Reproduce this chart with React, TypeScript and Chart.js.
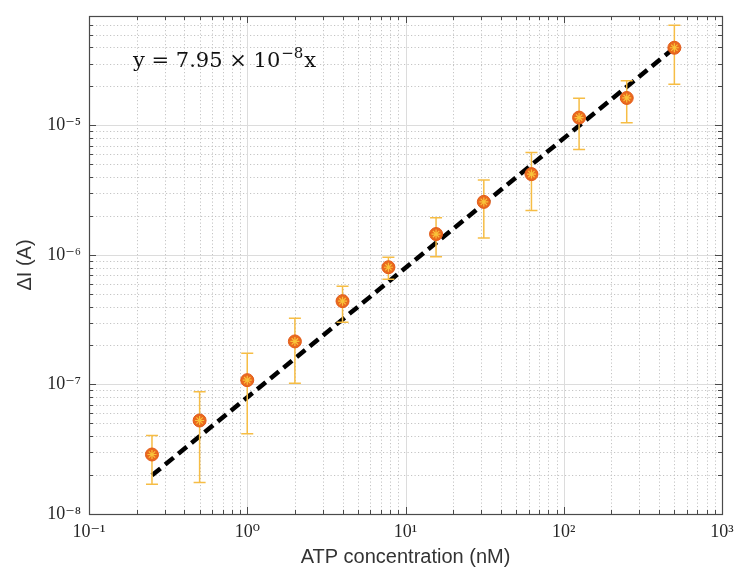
import React, { useEffect, useRef } from "react";
import { Chart, registerables } from "chart.js";

Chart.register(...registerables);

// ---- data ----
const concentrations = [0.25, 0.5, 1, 2, 4, 7.8, 15.6, 31.25, 62.5, 125, 250, 500];
const deltaI = [2.88e-8, 5.27e-8, 1.08e-7, 2.15e-7, 4.4e-7, 8.04e-7, 1.45e-6, 2.57e-6, 4.21e-6, 1.15e-5, 1.63e-5, 3.98e-5];
const errHigh = [4.04e-8, 8.8e-8, 1.74e-7, 3.25e-7, 5.74e-7, 9.6e-7, 1.94e-6, 3.79e-6, 6.18e-6, 1.62e-5, 2.21e-5, 5.93e-5];
const errLow = [1.7e-8, 1.75e-8, 4.16e-8, 1.02e-7, 3.03e-7, 6.5e-7, 9.7e-7, 1.35e-6, 2.2e-6, 6.52e-6, 1.05e-5, 2.08e-5];
const fitX = [0.25, 500];
const fitY = [1.9875e-8, 3.975e-5];
const xTicks = [0.1, 1, 10, 100, 1000];
const yTicks = [1e-8, 1e-7, 1e-6, 1e-5];
const xRange = [0.1, 1000];
const yRange = [1e-8, 7e-5];
const xTitle = "ATP concentration (nM)";
const yTitle = "ΔI (A)";
const equationMain = "y = 7.95 × 10";
const equationSup = "−8";
const equationTail = "x";

const SUP: Record<string, string> = {
  "0": "⁰", "1": "¹", "2": "²", "3": "³", "4": "⁴", "5": "⁵",
  "6": "⁶", "7": "⁷", "8": "⁸", "9": "⁹", "-": "⁻",
};
const pow10Label = (v: number) =>
  "10" + String(Math.round(Math.log10(v))).split("").map((c) => SUP[c] || c).join("");

const minorAndMajor = (lo: number, hi: number) => {
  const major: number[] = [];
  const minor: number[] = [];
  const e0 = Math.floor(Math.log10(lo) + 1e-9);
  const e1 = Math.ceil(Math.log10(hi) - 1e-9);
  for (let e = e0; e <= e1; e++) {
    for (let k = 1; k < 10; k++) {
      const v = k * Math.pow(10, e);
      if (v < lo * (1 - 1e-9) || v > hi * (1 + 1e-9)) continue;
      (k === 1 ? major : minor).push(v);
    }
  }
  return { major, minor };
};

const gridPlugin = {
  id: "matlabGrid",
  beforeDatasetsDraw(chart: any) {
    const { ctx, chartArea: a, scales } = chart;
    const xs = scales.x;
    const ys = scales.y;
    const gx = minorAndMajor(xRange[0], xRange[1]);
    const gy = minorAndMajor(yRange[0], yRange[1]);
    const px = (v: number) => Math.round(xs.getPixelForValue(v)) + 0.5;
    const py = (v: number) => Math.round(ys.getPixelForValue(v)) + 0.5;
    ctx.save();
    ctx.lineWidth = 1;
    ctx.setLineDash([1.2, 2.3]);
    ctx.strokeStyle = "#c4c4c4";
    ctx.beginPath();
    gx.minor.forEach((v) => { const p = px(v); ctx.moveTo(p, a.top); ctx.lineTo(p, a.bottom); });
    gy.minor.forEach((v) => { const p = py(v); ctx.moveTo(a.left, p); ctx.lineTo(a.right, p); });
    ctx.stroke();
    ctx.setLineDash([]);
    ctx.strokeStyle = "#dcdcdc";
    ctx.beginPath();
    gx.major.forEach((v) => { const p = px(v); ctx.moveTo(p, a.top); ctx.lineTo(p, a.bottom); });
    gy.major.forEach((v) => { const p = py(v); ctx.moveTo(a.left, p); ctx.lineTo(a.right, p); });
    ctx.stroke();
    ctx.strokeStyle = "#4a4a4a";
    ctx.lineWidth = 1.2;
    ctx.strokeRect(a.left + 0.5, a.top + 0.5, a.right - a.left, a.bottom - a.top);
    ctx.lineWidth = 1;
    ctx.beginPath();
    const tick = (vals: number[], len: number) => {
      vals.forEach((v) => {
        const p = px(v);
        ctx.moveTo(p, a.bottom); ctx.lineTo(p, a.bottom - len);
        ctx.moveTo(p, a.top); ctx.lineTo(p, a.top + len);
      });
    };
    const tickY = (vals: number[], len: number) => {
      vals.forEach((v) => {
        const p = py(v);
        ctx.moveTo(a.left, p); ctx.lineTo(a.left + len, p);
        ctx.moveTo(a.right, p); ctx.lineTo(a.right - len, p);
      });
    };
    tick(gx.major, 7); tick(gx.minor, 4);
    tickY(gy.major, 7); tickY(gy.minor, 4);
    ctx.stroke();
    ctx.restore();
  },
};

const errorBarPlugin = {
  id: "errorBars",
  afterDatasetDraw(chart: any, args: any) {
    if (chart.data.datasets[args.index].label !== "fit") return;
    const { ctx, scales } = chart;
    ctx.save();
    ctx.strokeStyle = "#F6BD45";
    ctx.lineWidth = 1.5;
    ctx.beginPath();
    concentrations.forEach((c, i) => {
      const x = scales.x.getPixelForValue(c);
      const yt = scales.y.getPixelForValue(errHigh[i]);
      const yb = scales.y.getPixelForValue(errLow[i]);
      ctx.moveTo(x, yt); ctx.lineTo(x, yb);
      ctx.moveTo(x - 6, yt); ctx.lineTo(x + 6, yt);
      ctx.moveTo(x - 6, yb); ctx.lineTo(x + 6, yb);
    });
    ctx.stroke();
    ctx.restore();
  },
};

const equationPlugin = {
  id: "equation",
  afterDatasetsDraw(chart: any) {
    const { ctx, chartArea: a } = chart;
    ctx.save();
    ctx.fillStyle = "#111";
    ctx.textBaseline = "alphabetic";
    ctx.textAlign = "left";
    let x = a.left + 44;
    const y = a.top + 51;
    ctx.font = "21px 'DejaVu Serif'";
    ctx.fillText(equationMain, x, y);
    x += ctx.measureText(equationMain).width + 1;
    ctx.font = "15px 'DejaVu Serif'";
    ctx.fillText(equationSup, x, y - 9);
    x += ctx.measureText(equationSup).width + 1;
    ctx.font = "21px 'DejaVu Serif'";
    ctx.fillText(equationTail, x, y);
    ctx.restore();
  },
};

export default function App() {
  const ref = useRef<HTMLCanvasElement | null>(null);
  useEffect(() => {
    if (!ref.current) return;
    const points = concentrations.map((c, i) => ({ x: c, y: deltaI[i] }));
    const fit = fitX.map((v, i) => ({ x: v, y: fitY[i] }));
    const chart = new Chart(ref.current, {
      type: "scatter",
      data: {
        datasets: [
          {
            label: "star",
            data: points,
            pointStyle: "star",
            pointRadius: 4.5,
            borderColor: "#F9C33A",
            backgroundColor: "#F9C33A",
            borderWidth: 1.2,
            order: 0,
          },
          {
            label: "points",
            data: points,
            pointStyle: "circle",
            pointRadius: 6.5,
            backgroundColor: "#EA6A1E",
            borderColor: "#E25A18",
            borderWidth: 1,
            order: 1,
          },
          {
            label: "fit",
            type: "line",
            data: fit,
            borderColor: "#000",
            borderWidth: 4.5,
            borderDash: [11, 6],
            pointRadius: 0,
            fill: false,
            order: 2,
          } as any,
        ],
      },
      options: {
        responsive: false,
        animation: false,
        events: [],
        layout: { padding: { left: 0, top: 16, right: 13, bottom: 0 } },
        plugins: { legend: { display: false }, tooltip: { enabled: false } },
        scales: {
          x: {
            type: "logarithmic",
            min: xRange[0],
            max: xRange[1],
            afterBuildTicks: (s: any) => { s.ticks = xTicks.map((v) => ({ value: v, major: true })); },
            afterFit: (s: any) => { s.height = 60; s.paddingLeft = 0; s.paddingRight = 0; },
            grid: { display: false, drawTicks: false },
            border: { display: false },
            ticks: {
              padding: 7,
              color: "#262626",
              font: { family: "'Liberation Serif', 'DejaVu Serif', serif", size: 18 },
              callback: (v: any) => pow10Label(Number(v)),
              maxRotation: 0,
            },
            title: {
              display: true,
              text: xTitle,
              color: "#333",
              font: { family: "'Liberation Sans', Arial, sans-serif", size: 20 },
              padding: { top: 0, bottom: 5 },
            },
          },
          y: {
            type: "logarithmic",
            min: yRange[0],
            max: yRange[1],
            afterBuildTicks: (s: any) => { s.ticks = yTicks.map((v) => ({ value: v, major: true })); },
            afterFit: (s: any) => { s.width = 89; s.paddingTop = 0; s.paddingBottom = 0; },
            grid: { display: false, drawTicks: false },
            border: { display: false },
            ticks: {
              padding: 8,
              color: "#262626",
              font: { family: "'Liberation Serif', 'DejaVu Serif', serif", size: 18 },
              callback: (v: any) => pow10Label(Number(v)),
            },
            title: {
              display: true,
              text: yTitle,
              color: "#333",
              font: { family: "'Liberation Sans', Arial, sans-serif", size: 20 },
              padding: { top: 13, bottom: 0 },
            },
          },
        },
      },
      plugins: [gridPlugin, errorBarPlugin, equationPlugin],
    } as any);
    return () => chart.destroy();
  }, []);
  return (
    <div style={{ position: "absolute", left: 0, top: 0, width: 735, height: 574, background: "#fff" }}>
      <canvas ref={ref} width={735} height={574} style={{ display: "block" }} />
    </div>
  );
}
